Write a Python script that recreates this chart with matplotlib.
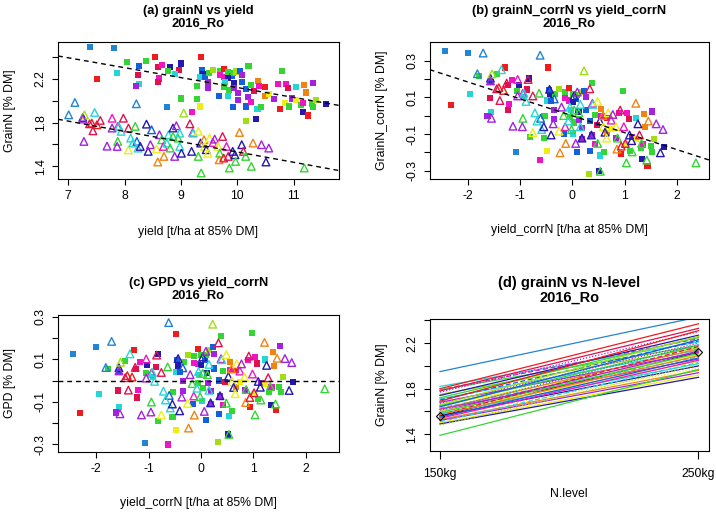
import numpy as np
import matplotlib.pyplot as plt

plt.rcParams['font.family'] = ['Liberation Sans', 'DejaVu Sans']
plt.rcParams['axes.unicode_minus'] = False

# colour groups (rainbow-like palette used per variety)
pal = {'r': '#EE1C1C', 'cr': '#E0124E', 'mg': '#EE16C4', 'pu': '#A222DE',
       'db': '#2418AE', 'bl': '#1460DC', 'sb': '#2384D2', 'cy': '#26D6D6',
       'gr': '#34D534', 'yg': '#A2DE14', 'ye': '#EEEE14', 'or': '#EE8414'}

# 250kg N (squares): yield, grainN, colour
yield_250 = [7.38, 7.82, 8.04, 8.38, 8.54, 8.26, 8.59, 8.66, 8.80, 9.00, 8.96, 9.35,
             8.77, 7.87, 7.51, 8.24, 8.26, 8.20, 8.62, 8.60, 8.90, 9.01, 8.75, 9.28,
             9.20, 9.34, 9.29, 9.37, 9.39, 9.34, 9.42, 9.48, 9.48, 9.50, 9.57, 9.69,
             9.76, 9.69, 9.76, 9.83, 9.90, 9.92, 9.98, 10.05, 10.08, 10.20, 9.83, 9.79,
             9.77, 9.86, 9.94, 9.95, 10.01, 9.84, 9.67, 9.92, 10.01, 10.08, 10.16, 10.19,
             10.16, 10.25, 10.29, 10.25, 10.15, 10.34, 10.36, 10.37, 10.38, 10.42, 10.49, 10.49,
             10.57, 10.66, 10.72, 10.79, 10.76, 10.84, 10.86, 10.90, 10.92, 10.97, 11.04, 11.04,
             11.13, 11.19, 11.22, 11.17, 11.16, 11.26, 11.34, 11.32, 11.35, 11.39, 11.58]
grainN_250 = [2.489, 2.48, 2.355, 2.364, 2.40, 2.32, 2.306, 2.33, 2.306, 2.34, 2.28, 2.40,
              2.27, 2.255, 2.197, 2.236, 2.157, 2.136, 2.203, 2.17, 2.24, 2.02, 1.94, 2.015,
              1.893, 1.947, 2.133, 2.276, 2.243, 2.22, 2.216, 2.167, 2.12, 2.255, 2.282, 2.267,
              2.29, 2.233, 2.22, 2.258, 2.227, 2.25, 2.267, 2.273, 2.237, 2.313, 2.21, 2.167,
              2.13, 2.10, 2.16, 2.115, 2.07, 2.04, 2.04, 1.94, 2.008, 2.17, 2.106, 2.03,
              1.947, 1.984, 2.087, 2.142, 1.817, 1.835, 1.92, 2.176, 2.136, 1.94, 2.124, 2.045,
              2.063, 2.017, 2.151, 2.27, 1.926, 1.98, 2.154, 2.118, 1.947, 2.02, 2.124, 2.008,
              1.963, 2.145, 2.075, 1.98, 1.90, 1.865, 2.16, 1.97, 1.94, 2.008, 1.968]
col_250 = ['sb', 'sb', 'gr', 'gr', 'r', 'bl', 'cr', 'mg', 'db', 'db', 'cr', 'r',
           'gr', 'cy', 'r', 'cr', 'cy', 'pu', 'mg', 'cr', 'cy', 'gr', 'sb', 'gr',
           'mg', 'ye', 'gr', 'bl', 'db', 'cy', 'bl', 'pu', 'pu', 'gr', 'yg', 'gr',
           'r', 'mg', 'mg', 'gr', 'bl', 'gr', 'yg', 'bl', 'pu', 'gr', 'db', 'cy',
           'gr', 'gr', 'db', 'pu', 'pu', 'cy', 'bl', 'bl', 'pu', 'bl', 'bl', 'pu',
           'bl', 'mg', 'cr', 'gr', 'yg', 'db', 'cy', 'or', 'mg', 'gr', 'r', 'or',
           'ye', 'pu', 'mg', 'gr', 'r', 'ye', 'mg', 'cr', 'gr', 'pu', 'cy', 'ye',
           'gr', 'or', 'or', 'mg', 'db', 'r', 'pu', 'gr', 'gr', 'yg', 'db']

# 150kg N (triangles): yield, grainN, colour
yield_150 = [7.01, 7.12, 7.26, 7.29, 7.26, 7.28, 7.47, 7.42, 7.51, 7.57, 7.38, 7.44,
             7.69, 7.78, 7.78, 7.88, 7.90, 7.98, 7.94, 7.88, 7.87, 8.07, 8.19, 8.07,
             8.21, 8.22, 8.11, 8.15, 8.24, 8.28, 8.39, 8.42, 8.48, 8.46, 8.57, 8.59,
             8.62, 8.66, 8.69, 8.70, 8.78, 8.75, 8.81, 8.89, 8.86, 8.92, 8.86, 8.95,
             8.98, 9.01, 8.98, 9.05, 9.16, 9.21, 9.19, 9.22, 9.31, 9.31, 9.36, 9.35,
             9.41, 9.42, 9.45, 9.48, 9.51, 9.57, 9.60, 9.66, 9.68, 9.69, 9.74, 9.76,
             9.81, 9.84, 9.86, 9.92, 9.96, 9.97, 10.04, 10.08, 10.11, 10.15, 10.25, 10.28,
             10.43, 10.51, 10.56, 11.19]
grainN_150 = [1.871, 1.984, 1.847, 1.87, 1.832, 1.628, 1.893, 1.795, 1.78, 1.82, 1.789, 1.725,
              1.585, 1.84, 1.75, 1.765, 1.765, 1.84, 1.72, 1.628, 1.582, 1.75, 1.765, 1.55,
              1.972, 1.628, 1.658, 1.613, 1.567, 1.582, 1.786, 1.537, 1.734, 1.598, 1.558, 1.44,
              1.689, 1.643, 1.582, 1.491, 1.689, 1.613, 1.567, 1.491, 1.75, 1.771, 1.673, 1.658,
              1.582, 1.52, 1.704, 1.887, 1.789, 1.71, 1.537, 1.704, 1.491, 1.72, 1.339, 1.613,
              1.643, 1.582, 1.552, 1.52, 1.658, 1.618, 1.649, 1.582, 1.46, 1.52, 1.673, 1.476,
              1.582, 1.491, 1.385, 1.537, 1.506, 1.445, 1.71, 1.598, 1.537, 1.491, 1.40, 1.613,
              1.598, 1.44, 1.567, 1.385]
col_150 = ['sb', 'sb', 'db', 'yg', 'pu', 'pu', 'cy', 'r', 'r', 'cr', 'cr', 'cr',
           'pu', 'mg', 'pu', 'mg', 'cy', 'cr', 'cy', 'gr', 'pu', 'cr', 'gr', 'ye',
           'sb', 'bl', 'cy', 'cy', 'cy', 'db', 'db', 'db', 'bl', 'pu', 'ye', 'or',
           'pu', 'gr', 'mg', 'or', 'cy', 'cy', 'gr', 'pu', 'db', 'pu', 'gr', 'gr',
           'cy', 'db', 'cy', 'yg', 'cr', 'mg', 'db', 'cy', 'gr', 'ye', 'gr', 'db',
           'or', 'ye', 'db', 'ye', 'ye', 'mg', 'pu', 'ye', 'or', 'gr', 'cr', 'r',
           'mg', 'cr', 'gr', 'db', 'db', 'gr', 'or', 'db', 'cr', 'gr', 'gr', 'or',
           'pu', 'db', 'pu', 'gr']

# panel (d): grainN per variety at the two N levels
n_levels = ['150kg', '250kg']
d_150 = [1.95, 1.82, 1.80, 1.79, 1.79, 1.78, 1.77, 1.75, 1.74, 1.72, 1.71, 1.70, 1.69, 1.68,
         1.67, 1.66, 1.65, 1.65, 1.64, 1.63, 1.62, 1.62, 1.61, 1.60, 1.60, 1.59, 1.58, 1.57,
         1.57, 1.56, 1.55, 1.55, 1.54, 1.53, 1.52, 1.51, 1.50, 1.49, 1.48, 1.39]
d_250 = [2.43, 2.21, 2.37, 2.24, 2.18, 2.33, 2.30, 2.16, 2.27, 2.25, 2.14, 2.22, 2.31, 2.12,
         2.20, 2.26, 2.10, 2.18, 2.23, 2.08, 2.15, 2.06, 2.19, 2.13, 2.04, 2.11, 2.02, 2.17,
         2.09, 2.00, 1.98, 2.07, 2.05, 1.96, 1.94, 2.03, 1.92, 1.90, 2.01, 1.97]
d_col = ['sb', 'cy', 'r', 'mg', 'gr', 'cr', 'pu', 'yg', 'db', 'gr', 'cy', 'bl', 'r', 'pu',
         'mg', 'yg', 'ye', 'gr', 'bl', 'cy', 'or', 'mg', 'sb', 'pu', 'ye', 'gr', 'cy', 'cr',
         'or', 'db', 'ye', 'bl', 'mg', 'or', 'pu', 'cy', 'ye', 'db', 'yg', 'gr']
d_check = [1.56, 2.12]

# derived: centre by N level, then residual from pooled regression (GPD)
x150 = np.array(yield_150); y150 = np.array(grainN_150)
x250 = np.array(yield_250); y250 = np.array(grainN_250)
xc150 = x150 - x150.mean(); yc150 = y150 - y150.mean()
xc250 = x250 - x250.mean(); yc250 = y250 - y250.mean()
slope_c, int_c = np.polyfit(np.r_[xc150, xc250], np.r_[yc150, yc250], 1)
gpd150 = yc150 - (int_c + slope_c * xc150)
gpd250 = yc250 - (int_c + slope_c * xc250)

c150 = [pal[c] for c in col_150]
c250 = [pal[c] for c in col_250]

fig = plt.figure(figsize=(7.16, 5.13), dpi=100)
ax_a = fig.add_axes([0.081, 0.651, 0.392, 0.267])
ax_b = fig.add_axes([0.600, 0.651, 0.390, 0.267])
ax_c = fig.add_axes([0.081, 0.1195, 0.392, 0.266])
ax_d = fig.add_axes([0.600, 0.121, 0.390, 0.258])

fs = 8.8


def r_style(ax, yticks, ylabels, title, xlabel, ylabel, xlab_y, tsize=9.3, tpad=11):
    for s in ax.spines.values():
        s.set_linewidth(0.8)
    ax.tick_params(direction='out', length=4, width=0.8, labelsize=fs, pad=4)
    ax.set_yticks(yticks)
    ax.set_yticklabels(ylabels, rotation=90, va='center')
    ax.set_title(title, fontweight='bold', fontsize=tsize, pad=tpad, linespacing=1.1)
    ax.set_xlabel(xlabel, fontsize=fs)
    ax.set_ylabel(ylabel, fontsize=fs)
    ax.xaxis.set_label_coords(0.5, xlab_y)
    ax.yaxis.set_label_coords(-0.15, 0.5)


def scatter_pair(ax, xs, ys, xt, yt):
    ax.scatter(xs, ys, marker='s', s=19, c=c250, linewidths=0)
    ax.scatter(xt, yt, marker='^', s=30, facecolors='none', edgecolors=c150, linewidths=1.0)


dash = (0, (3.5, 2.8))

# (a)
scatter_pair(ax_a, x250, y250, x150, y150)
ax_a.set_xlim(6.82, 11.8)
ax_a.set_ylim(1.284, 2.536)
xx = np.array([6.82, 11.8])
for xv, yv in [(x250, y250), (x150, y150)]:
    m, b = np.polyfit(xv, yv, 1)
    ax_a.plot(xx, b + m * xx, color='black', lw=1.0, ls=dash)
ax_a.set_xticks([7, 8, 9, 10, 11])
r_style(ax_a, [1.4, 1.6, 1.8, 2.0, 2.2, 2.4], ['1.4', '', '1.8', '', '2.2', ''],
        '(a) grainN vs yield\n2016_Ro', 'yield [t/ha at 85% DM]', 'GrainN [% DM]', -0.343)

# (b)
scatter_pair(ax_b, xc250, yc250, xc150, yc150)
ax_b.set_xlim(-2.73, 2.61)
ax_b.set_ylim(-0.345, 0.402)
xx = np.array([-2.73, 2.61])
ax_b.plot(xx, int_c + slope_c * xx, color='black', lw=1.0, ls=dash)
ax_b.set_xticks([-2, -1, 0, 1, 2])
r_style(ax_b, [-0.3, -0.2, -0.1, 0, 0.1, 0.2, 0.3], ['-0.3', '', '-0.1', '', '0.1', '', '0.3'],
        '(b) grainN_corrN vs yield_corrN\n2016_Ro', 'yield_corrN [t/ha at 85% DM]',
        'GrainN_corrN [% DM]', -0.328)

# (c)
scatter_pair(ax_c, xc250, gpd250, xc150, gpd150)
ax_c.set_xlim(-2.73, 2.63)
ax_c.set_ylim(-0.335, 0.308)
ax_c.axhline(0, color='black', lw=1.0, ls=dash)
ax_c.set_xticks([-2, -1, 0, 1, 2])
r_style(ax_c, [-0.3, -0.2, -0.1, 0, 0.1, 0.2, 0.3], ['-0.3', '', '-0.1', '', '0.1', '', '0.3'],
        '(c) GPD vs yield_corrN\n2016_Ro', 'yield_corrN [t/ha at 85% DM]', 'GPD [% DM]', -0.332,
        tpad=11.5)

# (d)
styles = ['-', '-', '-', (0, (4, 2)), '-', '-', (0, (1, 1.5)), '-']
ax_d.plot([1, 2], d_check, color='black', lw=0.7, zorder=1)
for i, (a, b) in enumerate(zip(d_150, d_250)):
    ax_d.plot([1, 2], [a, b], color=pal[d_col[i]], lw=0.9, ls=styles[i % len(styles)], zorder=2)
ax_d.plot([1, 2], d_check, ls='none', marker='D', ms=4.5, mfc='none', mec='black', mew=0.8,
          zorder=3)
ax_d.set_xlim(0.96, 2.04)
ax_d.set_ylim(1.253, 2.416)
ax_d.set_xticks([1, 2])
ax_d.set_xticklabels(n_levels)
r_style(ax_d, [1.4, 1.6, 1.8, 2.0, 2.2, 2.4], ['1.4', '', '1.8', '', '2.2', ''],
        '(d) grainN vs N-level\n2016_Ro', 'N.level', 'GrainN [% DM]', -0.28,
        tsize=10.5, tpad=12)
ax_d.tick_params(axis='x', length=5.5, pad=7)

fig.savefig('out.png', dpi=100)
